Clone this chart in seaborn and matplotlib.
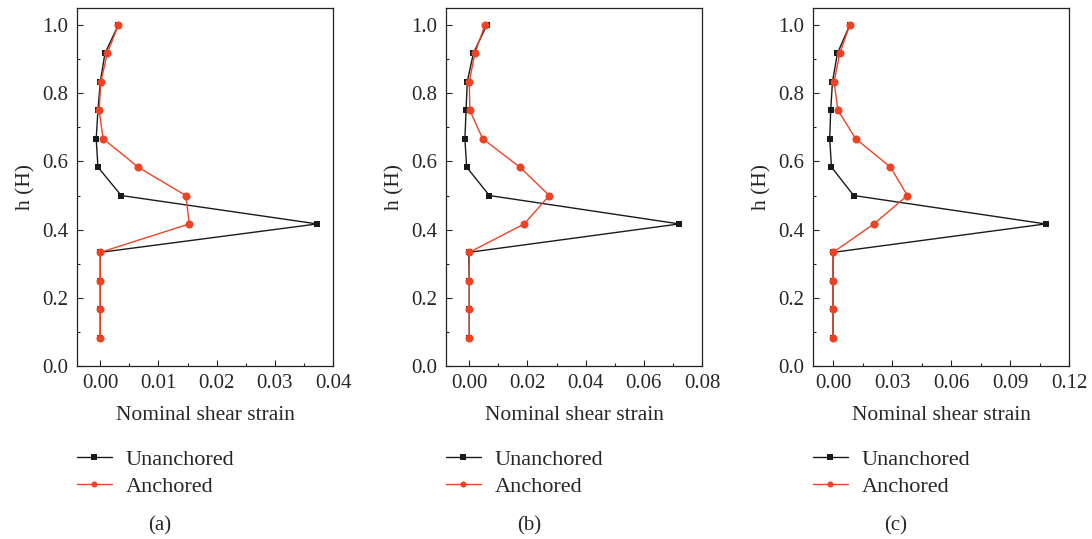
import numpy as np
import pandas as pd
import matplotlib
matplotlib.use("Agg")
import matplotlib.pyplot as plt
import seaborn as sns
from matplotlib.ticker import MultipleLocator

h = [1.0, 0.9167, 0.8333, 0.75, 0.6667, 0.5833, 0.5, 0.4167, 0.3333, 0.25, 0.1667, 0.0833]

unanch_a = [0.0031, 0.0008, 0.0000, -0.0004, -0.0007, -0.0004, 0.0036, 0.0373, 0.0, 0.0, 0.0, 0.0]
anch_a = [0.0031, 0.0012, 0.0001, -0.0002, 0.0005, 0.0065, 0.0147, 0.0153, 0.0, 0.0, 0.0, 0.0]

unanch_b = [0.0060, 0.0014, -0.0007, -0.0011, -0.0015, -0.0009, 0.0069, 0.0722, -0.0002, 0.0, 0.0, 0.0]
anch_b = [0.0054, 0.0019, 0.0000, 0.0002, 0.0046, 0.0174, 0.0275, 0.0189, 0.0, 0.0, 0.0, 0.0]

unanch_c = [0.0085, 0.0022, -0.0003, -0.0012, -0.0017, -0.0008, 0.0105, 0.1081, 0.0, 0.0, 0.0, 0.0]
anch_c = [0.0085, 0.0034, 0.0005, 0.0025, 0.0115, 0.0292, 0.0378, 0.0208, 0.0, 0.0, 0.0, 0.0]

panels = ["(a)", "(b)", "(c)"]
series_names = ["Unanchored", "Anchored"]
xlims = [(-0.004, 0.04), (-0.008, 0.08), (-0.0102, 0.12)]
xsteps = [0.01, 0.02, 0.03]

sns.set_style("ticks")
plt.rcParams['font.family'] = ['Liberation Serif', 'DejaVu Serif']
plt.rcParams['xtick.direction'] = 'in'
plt.rcParams['ytick.direction'] = 'in'

BLACK = "#1a1a1a"
RED = "#ee4323"

fig = plt.figure(figsize=(10.92, 5.39), dpi=100)
lefts = [77, 446, 813]
width_px = 256
top_px, bot_px = 8, 366
W, H = 1092, 539

data_sets = [(unanch_a, anch_a), (unanch_b, anch_b), (unanch_c, anch_c)]

for i, (un, an) in enumerate(data_sets):
    ax = fig.add_axes([lefts[i] / W, 1 - bot_px / H, width_px / W, (bot_px - top_px) / H])
    df = pd.DataFrame({"x": un + an, "h": h + h,
                       "series": [series_names[0]] * len(h) + [series_names[1]] * len(h)})
    sns.lineplot(data=df[df.series == series_names[0]], x="x", y="h", sort=False, estimator=None,
                 color=BLACK, marker="s", markersize=5, markeredgewidth=0, lw=1.0, ax=ax,
                 label=series_names[0])
    sns.lineplot(data=df[df.series == series_names[1]], x="x", y="h", sort=False, estimator=None,
                 color=RED, marker="o", markersize=5.8, markeredgewidth=0, lw=1.0, ax=ax,
                 label=series_names[1])
    ax.set_xlim(*xlims[i])
    ax.set_ylim(0, 1.05)
    ax.xaxis.set_major_locator(MultipleLocator(xsteps[i]))
    ax.xaxis.set_minor_locator(MultipleLocator(xsteps[i] / 2))
    ax.yaxis.set_major_locator(MultipleLocator(0.2))
    ax.yaxis.set_minor_locator(MultipleLocator(0.1))
    ax.xaxis.set_major_formatter(matplotlib.ticker.FuncFormatter(
        lambda v, p: "{:.2f}".format(0.0 if abs(v) < 1e-9 else v)))
    ax.yaxis.set_major_formatter(matplotlib.ticker.FuncFormatter(lambda v, p: "{:.1f}".format(v)))
    ax.tick_params(which="major", length=4, width=0.8, labelsize=15, pad=6)
    ax.tick_params(which="minor", length=2.5, width=0.8)
    for s in ax.spines.values():
        s.set_linewidth(0.9)
        s.set_color("#222222")
    ax.set_xlabel("Nominal shear strain", fontsize=15.5, labelpad=9)
    ax.set_ylabel("h (H)", fontsize=15.5, labelpad=5)
    handles, labels = ax.get_legend_handles_labels()
    ax.legend_.remove()
    fig.legend(handles, labels, loc="upper left",
               bbox_to_anchor=((lefts[i] - 7) / W, 1 - 443 / H),
               frameon=False, fontsize=16, handlelength=1.58, handletextpad=0.63,
               labelspacing=0.27, borderaxespad=0, borderpad=0.3, markerscale=0.75)
    fig.text((lefts[i] + 83) / W, 1 - 526 / H, panels[i], ha="center", va="center", fontsize=15)

fig.savefig("out.png", dpi=100)
